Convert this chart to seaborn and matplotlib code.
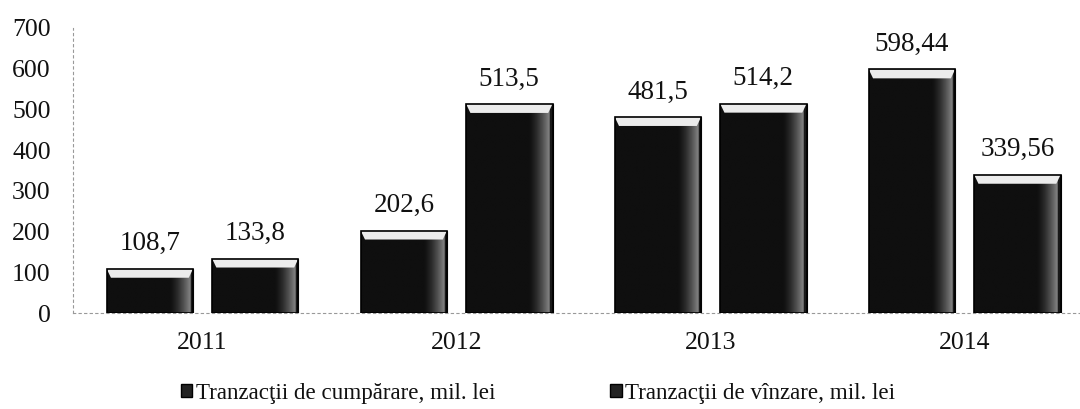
import matplotlib.pyplot as plt
import numpy as np
import pandas as pd
import seaborn as sns
from matplotlib.patches import Rectangle, Polygon

# Data
years = ['2011', '2012', '2013', '2014']
cumparare = [108.7, 202.6, 481.5, 598.44]
vinzare = [133.8, 513.5, 514.2, 339.56]
series_names = ['Tranzacţii de cumpărare, mil. lei', 'Tranzacţii de vînzare, mil. lei']
y_ticks = [0, 100, 200, 300, 400, 500, 600, 700]

df = pd.DataFrame({
    'year': years * 2,
    'value': cumparare + vinzare,
    'series': [series_names[0]] * len(years) + [series_names[1]] * len(years),
})

sns.set_theme(style='white')
plt.rcParams['font.family'] = ['Liberation Serif', 'DejaVu Serif']

W, H = 1080, 409
fig = plt.figure(figsize=(W / 100, H / 100), dpi=100)
ax = fig.add_axes([73 / W, 1 - 313 / H, (W - 73) / W, 285 / H])

sns.barplot(data=df, x='year', y='value', hue='series',
            palette=['#111111', '#111111'], saturation=1,
            width=0.83, gap=0.18, edgecolor='#000000', linewidth=0.8,
            legend=False, ax=ax)

# shading on each bar: lighter right side and a bevelled top
ppu_y = 285 / 700.0
for p in list(ax.patches):
    x0, w, h = p.get_x(), p.get_width(), p.get_height()
    u = np.linspace(0, 1, 80)
    col = 0.06 + 0.45 * np.clip((u - 0.72) / 0.24, 0, 1) ** 1.5
    col[u > 0.97] = 0.1
    img = np.tile(col, (10, 1))
    im = ax.imshow(img, cmap='gray', vmin=0, vmax=1, aspect='auto',
                   extent=[x0, x0 + w, 0, h], interpolation='bilinear', zorder=2)
    im.set_clip_path(p)
    d = 9 / ppu_y
    inset = w * 0.05
    bevel = Polygon([[x0, h], [x0 + w, h], [x0 + w - inset, h - d], [x0 + inset, h - d]],
                    closed=True, facecolor='#ececec', edgecolor='none', zorder=3)
    ax.add_patch(bevel)
    ax.add_patch(Rectangle((x0, 0), w, h, fill=False, edgecolor='#000000', linewidth=1.2, zorder=4))

ax.set_xlim(-0.51, 3.454)
ax.set_ylim(0, 700)

for cont in ax.containers:
    labels = [('%g' % v).replace('.', ',') for v in cont.datavalues]
    ax.bar_label(cont, labels=labels, padding=9, fontsize=19.5, color='#111111')

ax.set_yticks(y_ticks)
ax.set_xlabel('')
ax.set_ylabel('')
ax.tick_params(axis='y', labelsize=18.5, pad=16, length=0, colors='#111111')
ax.tick_params(axis='x', labelsize=18.5, pad=14, length=0, colors='#111111')

for s in ['top', 'right']:
    ax.spines[s].set_visible(False)
for s in ['left', 'bottom']:
    ax.spines[s].set_linestyle((0, (2, 3)))
    ax.spines[s].set_color('#999999')
    ax.spines[s].set_linewidth(0.8)

handles = [Rectangle((0, 0), 1, 1, facecolor='#222222', edgecolor='#000000') for _ in series_names]
fig.legend(handles, series_names, loc='center', bbox_to_anchor=(538 / W, 1 - 393 / H),
           ncol=2, frameon=False, fontsize=16.6, handlelength=0.5, handleheight=0.5,
           handletextpad=0.15, columnspacing=5.0, labelcolor='#111111')

fig.savefig('out.png', dpi=100)
